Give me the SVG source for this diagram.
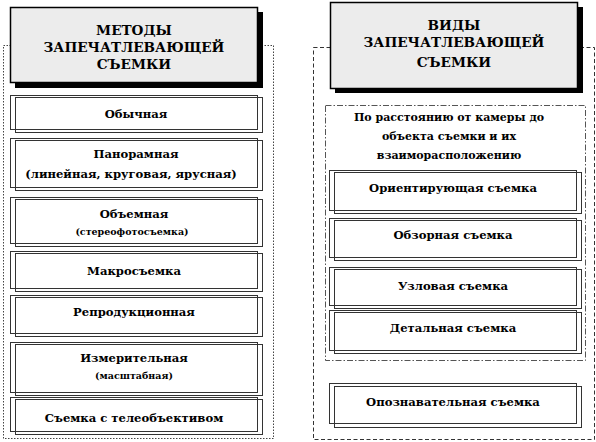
<svg xmlns="http://www.w3.org/2000/svg" width="596" height="442" viewBox="0 0 596 442">
<style>
text{font-family:"DejaVu Serif","Liberation Serif",serif;font-weight:bold;fill:#000;text-anchor:middle}
.hd{font-size:13.6px}
.it{font-size:11.6px}
.rs{font-size:11px}
.sm{font-size:9.5px}
.hbox{fill:#ececec;stroke:#000;stroke-width:1.5}
.hsh{fill:#000}
.b1{fill:#fff;stroke:#333;stroke-width:1}
.b2{fill:none;stroke:#333;stroke-width:1}
.cl{fill:none;stroke:#444;stroke-width:1;stroke-dasharray:1.5 1.5}
.cr{fill:none;stroke:#333;stroke-width:1;stroke-dasharray:4 2.5}
.cin{fill:none;stroke:#555;stroke-width:1;stroke-dasharray:6 2 1.5 2}
</style>
<rect width="596" height="442" fill="#fff"/>
<g id="containers">
<rect class="cl" x="3.5" y="45.5" width="270" height="393"/>
<rect class="cr" x="313.5" y="47.5" width="281" height="392"/>
<rect class="cin" x="325.5" y="105.5" width="260" height="255"/>
</g>
<g id="header-left">
<rect class="hsh" x="15" y="12" width="248" height="76"/>
<rect class="hbox" x="10.5" y="7.5" width="247" height="75"/>
<text class="hd" x="134" y="35">МЕТОДЫ</text>
<text class="hd" x="134" y="52">ЗАПЕЧАТЛЕВАЮЩЕЙ</text>
<text class="hd" x="134" y="69">СЪЕМКИ</text>
</g>
<g id="header-right">
<rect class="hsh" x="335" y="7" width="248" height="86"/>
<rect class="hbox" x="330.5" y="2.5" width="247" height="86"/>
<text class="hd" x="454" y="30">ВИДЫ</text>
<text class="hd" x="454" y="47">ЗАПЕЧАТЛЕВАЮЩЕЙ</text>
<text class="hd" x="454" y="67">СЪЕМКИ</text>
</g>
<g id="n-obychnaya">
<rect class="b1" x="10.5" y="95.5" width="247" height="34"/>
<rect class="b2" x="15.5" y="97.5" width="247" height="35"/>
<text class="it" x="136" y="118">Обычная</text>
</g>
<g id="n-panoramnaya">
<rect class="b1" x="10.5" y="138.5" width="247" height="49"/>
<rect class="b2" x="15.5" y="140.5" width="247" height="50"/>
<text class="it" x="136" y="158">Панорамная</text>
<text class="it" x="131" y="178">(линейная, круговая,  ярусная)</text>
</g>
<g id="n-obemnaya">
<rect class="b1" x="10.5" y="197.5" width="247" height="46"/>
<rect class="b2" x="15.5" y="199.5" width="247" height="47"/>
<text class="it" x="134" y="218">Объемная</text>
<text class="sm" x="132" y="235">(стереофотосъемка)</text>
</g>
<g id="n-makro">
<rect class="b1" x="10.5" y="251.5" width="247" height="37"/>
<rect class="b2" x="15.5" y="253.5" width="247" height="38"/>
<text class="it" x="134" y="275">Макросъемка</text>
</g>
<g id="n-reprod">
<rect class="b1" x="10.5" y="295.5" width="247" height="38"/>
<rect class="b2" x="15.5" y="297.5" width="247" height="39"/>
<text class="it" x="134" y="316">Репродукционная</text>
</g>
<g id="n-izmer">
<rect class="b1" x="10.5" y="342.5" width="247" height="50"/>
<rect class="b2" x="15.5" y="344.5" width="247" height="51"/>
<text class="it" x="134" y="362">Измерительная</text>
<text class="sm" x="134" y="379">(масштабная)</text>
</g>
<g id="n-tele">
<rect class="b1" x="10.5" y="397.5" width="247" height="34"/>
<rect class="b2" x="15.5" y="399.5" width="247" height="35"/>
<text class="it" x="134" y="422">Съемка с телеобъективом</text>
</g>
<g id="n-rasst">
<text class="rs" x="449" y="121">По расстоянию от камеры до</text>
<text class="rs" x="449" y="140">объекта съемки и их</text>
<text class="rs" x="449" y="159">взаиморасположению</text>
</g>
<g id="n-orient">
<rect class="b1" x="329.5" y="170.5" width="247" height="40"/>
<rect class="b2" x="334.5" y="172.5" width="247" height="41"/>
<text class="it" x="453" y="192">Ориентирующая съемка</text>
</g>
<g id="n-obzor">
<rect class="b1" x="329.5" y="218.5" width="247" height="39"/>
<rect class="b2" x="334.5" y="220.5" width="247" height="40"/>
<text class="it" x="453" y="239">Обзорная съемка</text>
</g>
<g id="n-uzel">
<rect class="b1" x="329.5" y="267.5" width="247" height="38"/>
<rect class="b2" x="334.5" y="269.5" width="247" height="39"/>
<text class="it" x="453" y="290">Узловая съемка</text>
</g>
<g id="n-detal">
<rect class="b1" x="329.5" y="310.5" width="247" height="40"/>
<rect class="b2" x="334.5" y="312.5" width="247" height="41"/>
<text class="it" x="453" y="332">Детальная съемка</text>
</g>
<g id="n-opozn">
<rect class="b1" x="329.5" y="383.5" width="247" height="40"/>
<rect class="b2" x="334.5" y="386.5" width="247" height="41"/>
<text class="it" x="453" y="406">Опознавательная съемка</text>
</g>
<g id="connectors"></g>
</svg>
